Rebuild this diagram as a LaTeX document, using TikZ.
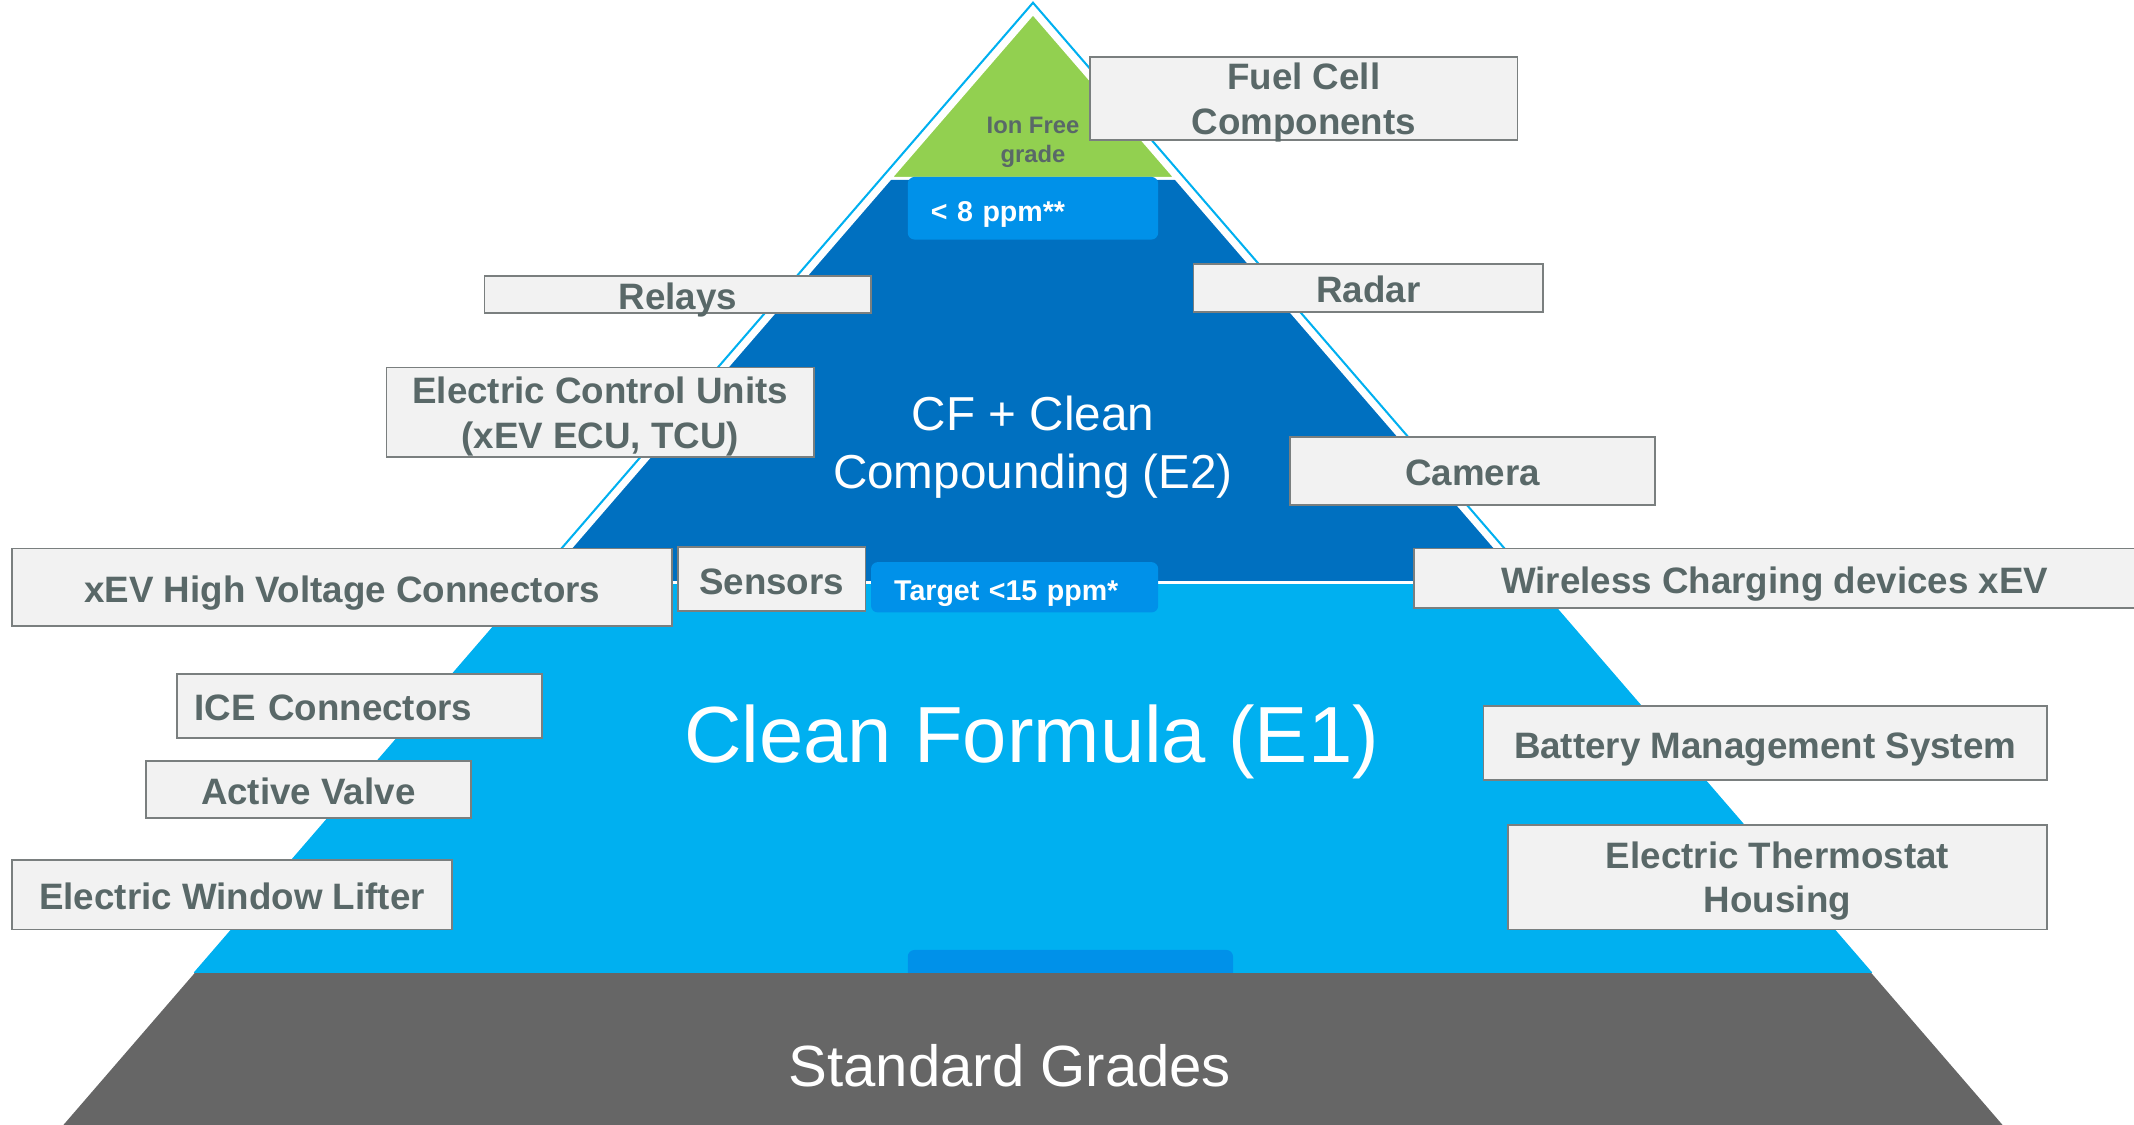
\documentclass[tikz,border=0pt]{standalone}
\usepackage{fontspec}
\setmainfont{Liberation Sans}
\definecolor{ionGreen}{HTML}{92D050}
\definecolor{darkBlue}{HTML}{0070C0}
\definecolor{lightBlue}{HTML}{00B0F0}
\definecolor{tabBlue}{HTML}{0091E9}
\definecolor{stdGray}{HTML}{666666}
\definecolor{boxFill}{HTML}{F2F2F2}
\definecolor{boxEdge}{HTML}{7A7F7F}
\definecolor{labelGray}{HTML}{596868}

\begin{document}
\begin{tikzpicture}[x=1pt,y=-1pt]
	\tikzset{app/.style={draw=boxEdge,line width=1.3pt,fill=boxFill,text=labelGray,font=\bfseries\fontsize{27}{33}\selectfont,inner sep=0pt,align=center,text depth=0pt}}
	\tikzset{oneline/.style={app,text height=22pt}}
	\tikzset{tab/.style={fill=tabBlue,rounded corners=5pt,text=white,font=\bfseries\fontsize{21}{25}\selectfont,inner ysep=0pt,text height=19pt,text depth=0pt}}
	\tikzset{tier/.style={text=white,align=center,text depth=0pt}}
	\useasboundingbox (0,0) rectangle (1568,826);
	\clip (0,0) rectangle (1568,826);
	\draw[lightBlue,line width=1.5pt] (143,715) -- (759,2) -- (1375,715);
	\fill[lightBlue] (390.5,428) -- (1127.5,428) -- (1375,715) -- (143,715) -- cycle;
	\filldraw[fill=darkBlue,draw=white,line width=2pt] (397.4,428) -- (654.3,131) -- (863.7,131) -- (1120.6,428) -- cycle;
	\filldraw[fill=ionGreen,draw=white,line width=2pt] (654.3,131) -- (759,10) -- (863.7,131) -- cycle;
	\node[text=labelGray,font=\bfseries\fontsize{17.5}{21}\selectfont,align=center] (ion) at (759,104.5) {Ion Free\\grade};
	\node[tab,minimum height=46pt,text width=150pt,inner xsep=17pt,align=left] (ppmIon) at (759,153) {< 8 ppm**};
	\node[tab,minimum height=37pt,text width=177pt,inner xsep=17pt,align=left] (ppmClean) at (745.5,431.5) {Target <15 ppm*};
	\node[tab,minimum width=239pt,minimum height=34pt] (ppmStd) at (786.5,715) {};
	\fill[stdGray] (143,715) -- (1375,715) -- (1483,840) -- (35,840) -- cycle;
	\node[tier,font=\fontsize{35}{43}\selectfont] (e2) at (759,325) {CF + Clean\\Compounding (E2)};
	\node[tier,font=\fontsize{58.5}{70}\selectfont] (e1) at (758,539) {Clean Formula (E1)};
	\node[text=white,font=\fontsize{42.7}{50}\selectfont] (std) at (742,783) {Standard Grades};
	\node[app,minimum width=314pt,minimum height=61pt] (fuel) at (958,72.5) {Fuel Cell\\Components};
	\node[oneline,minimum width=284pt,minimum height=27pt] (relays) at (498,216.5) {Relays};
	\node[oneline,minimum width=257pt,minimum height=35pt] (radar) at (1005.5,211.5) {Radar};
	\node[app,minimum width=314pt,minimum height=66pt] (ecu) at (441,303) {Electric Control Units\\(xEV ECU, TCU)};
	\node[oneline,minimum width=268pt,minimum height=50pt] (camera) at (1082,346) {Camera};
	\node[oneline,minimum width=485pt,minimum height=57pt] (hv) at (251.5,431.5) {xEV High Voltage Connectors};
	\node[oneline,minimum width=138pt,minimum height=47pt] (sensors) at (567,425.5) {Sensors};
	\node[oneline,minimum width=530pt,minimum height=44pt] (wireless) at (1304,425) {Wireless Charging devices xEV};
	\node[oneline,minimum height=47pt,text width=242pt,inner xsep=13pt,align=left] (ice) at (264,518.5) {ICE Connectors};
	\node[oneline,minimum width=239pt,minimum height=42pt] (valve) at (226.5,580) {Active Valve};
	\node[oneline,minimum width=323pt,minimum height=51pt] (lifter) at (170.5,657.5) {Electric Window Lifter};
	\node[oneline,minimum width=414pt,minimum height=54pt] (battery) at (1297,546) {Battery Management System};
	\node[app,minimum width=396pt,minimum height=77pt] (thermo) at (1306,644.5) {Electric Thermostat\\Housing};
\end{tikzpicture}
\end{document}
